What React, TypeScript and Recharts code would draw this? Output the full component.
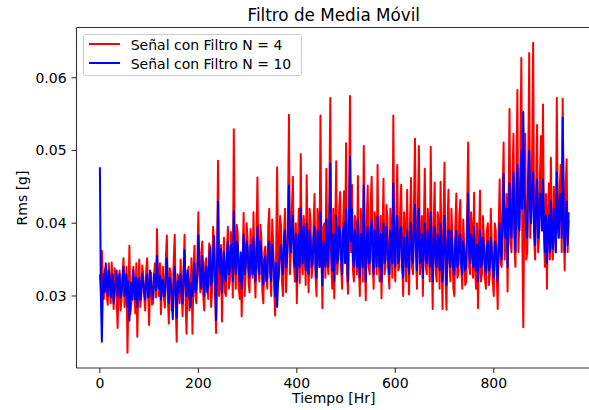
import { LineChart, Line, XAxis, YAxis, ReferenceLine } from 'recharts'

// Rms values in units of 1e-4 g, one sample every 2 hours (0 .. 952 Hr)
const stepHr = 2

const rmsN4 = [
  330, 305, 362, 318, 296, 335, 340, 300, 288, 345, 322, 290, 346, 310, 282, 338, 318, 295, 256, 320,
  335, 280, 296, 330, 352, 285, 300, 340, 222, 300, 369, 275, 290, 325, 340, 300, 276, 345, 244, 310,
  350, 285, 298, 342, 330, 300, 280, 335, 352, 305, 260, 315, 332, 288, 290, 330, 345, 298, 392, 320,
  300, 345, 275, 318, 340, 298, 284, 350, 383, 300, 262, 338, 330, 280, 295, 350, 384, 290, 237, 330,
  320, 290, 350, 305, 272, 335, 384, 295, 248, 322, 340, 280, 300, 352, 248, 330, 369, 300, 290, 345,
  415, 330, 305, 360, 375, 300, 280, 345, 352, 315, 296, 372, 368, 285, 310, 395, 370, 300, 249, 352,
  486, 300, 320, 370, 265, 340, 380, 305, 300, 362, 395, 310, 322, 388, 360, 298, 529, 345, 310, 398,
  385, 312, 296, 355, 272, 348, 414, 300, 330, 400, 378, 318, 305, 392, 360, 325, 415, 340, 298, 375,
  463, 335, 320, 398, 380, 305, 290, 360, 368, 325, 310, 395, 420, 330, 300, 405, 372, 312, 273, 360,
  477, 320, 330, 410, 395, 318, 300, 385, 420, 305, 340, 410, 549, 330, 360, 420, 464, 345, 320, 400,
  290, 365, 420, 318, 495, 350, 330, 410, 380, 315, 466, 360, 305, 420, 400, 325, 340, 395, 440, 330,
  300, 420, 390, 340, 548, 360, 283, 395, 400, 325, 475, 350, 330, 430, 572, 340, 310, 420, 297, 390,
  485, 330, 350, 420, 443, 340, 310, 400, 444, 350, 510, 330, 303, 420, 575, 360, 453, 335, 320, 410,
  390, 330, 465, 345, 300, 420, 380, 320, 506, 350, 294, 400, 452, 340, 330, 425, 464, 350, 310, 415,
  400, 330, 480, 360, 320, 410, 297, 380, 461, 330, 340, 425, 407, 335, 310, 420, 380, 325, 548, 355,
  320, 410, 480, 335, 340, 420, 453, 345, 300, 415, 390, 320, 446, 360, 302, 405, 462, 340, 330, 430,
  516, 360, 310, 425, 506, 330, 350, 410, 300, 395, 475, 340, 330, 420, 380, 320, 505, 360, 282, 400,
  456, 335, 320, 415, 400, 310, 457, 350, 282, 410, 483, 330, 281, 395, 446, 340, 320, 420, 380, 310,
  300, 395, 441, 325, 330, 410, 432, 340, 310, 405, 370, 315, 320, 420, 511, 340, 330, 415, 390, 325,
  442, 340, 310, 400, 283, 370, 445, 320, 330, 410, 380, 325, 310, 390, 400, 315, 330, 420, 370, 320,
  300, 400, 390, 330, 282, 395, 460, 345, 340, 430, 511, 350, 380, 440, 306, 420, 557, 375, 360, 460,
  523, 370, 340, 470, 583, 360, 400, 480, 627, 380, 257, 420, 523, 350, 360, 470, 634, 380, 420, 500,
  648, 380, 350, 450, 535, 360, 380, 470, 520, 390, 563, 380, 340, 440, 310, 410, 455, 350, 490, 370,
  350, 450, 400, 360, 572, 400, 380, 450, 480, 360, 571, 420, 335, 450, 488, 360, 405,
]

const rmsN10 = [
  477, 300, 237, 310, 330, 305, 345, 320, 300, 335, 325, 298, 312, 330, 290, 310, 318, 335, 300, 322,
  330, 298, 305, 325, 340, 300, 310, 330, 285, 320, 266, 300, 318, 295, 335, 310, 295, 325, 285, 315,
  325, 295, 305, 330, 320, 305, 295, 322, 330, 298, 300, 335, 318, 300, 296, 330, 320, 308, 355, 315,
  310, 328, 295, 315, 322, 300, 300, 330, 352, 310, 290, 325, 315, 300, 268, 315, 340, 300, 270, 320,
  305, 325, 330, 300, 290, 330, 363, 315, 300, 335, 320, 300, 285, 318, 300, 330, 345, 305, 310, 330,
  383, 345, 330, 310, 355, 335, 300, 325, 340, 305, 315, 350, 367, 315, 320, 355, 382, 325, 267, 340,
  430, 345, 330, 365, 305, 340, 360, 325, 320, 355, 375, 330, 340, 370, 355, 320, 416, 350, 330, 375,
  370, 335, 320, 360, 310, 350, 385, 330, 340, 375, 365, 335, 325, 370, 350, 330, 380, 340, 320, 360,
  395, 340, 330, 375, 360, 330, 315, 350, 355, 320, 325, 365, 375, 335, 320, 370, 350, 330, 300, 345,
  285, 320, 340, 365, 370, 340, 330, 380, 390, 340, 350, 385, 452, 370, 360, 395, 410, 350, 340, 385,
  320, 360, 385, 340, 420, 370, 345, 395, 365, 335, 400, 355, 330, 390, 375, 340, 345, 380, 395, 340,
  325, 390, 365, 340, 415, 350, 315, 375, 360, 340, 405, 355, 340, 395, 482, 360, 335, 385, 320, 370,
  410, 345, 350, 395, 385, 350, 330, 390, 400, 345, 420, 360, 320, 400, 491, 375, 420, 350, 340, 390,
  370, 340, 405, 350, 325, 385, 360, 340, 452, 370, 320, 375, 395, 345, 345, 390, 405, 350, 330, 390,
  370, 340, 410, 360, 340, 385, 320, 370, 400, 345, 350, 395, 375, 340, 330, 390, 365, 345, 455, 370,
  340, 385, 410, 345, 350, 390, 395, 340, 325, 380, 365, 340, 390, 355, 330, 380, 400, 350, 345, 395,
  425, 360, 335, 390, 420, 345, 350, 385, 325, 375, 400, 350, 345, 390, 370, 340, 415, 355, 320, 380,
  395, 345, 340, 385, 370, 335, 400, 350, 320, 380, 410, 345, 315, 375, 390, 345, 340, 390, 365, 335,
  330, 375, 390, 340, 345, 380, 385, 340, 330, 375, 360, 335, 340, 390, 441, 360, 345, 385, 370, 340,
  395, 345, 335, 370, 320, 360, 390, 340, 345, 380, 365, 340, 330, 370, 375, 335, 340, 380, 360, 340,
  325, 375, 370, 340, 320, 370, 400, 360, 350, 410, 468, 390, 380, 420, 340, 395, 455, 400, 380, 430,
  470, 390, 360, 440, 480, 400, 390, 450, 500, 420, 553, 440, 420, 390, 380, 460, 500, 420, 400, 450,
  470, 390, 370, 430, 460, 380, 390, 440, 440, 390, 460, 400, 360, 410, 345, 390, 410, 360, 430, 380,
  365, 420, 390, 360, 470, 400, 380, 430, 440, 380, 545, 420, 360, 400, 430, 370, 415,
]

const xTicks = [0, 200, 400, 600, 800]
const yTicks = [0.03, 0.04, 0.05, 0.06]

const seriesNames = ['Señal con Filtro N = 4', 'Señal con Filtro N = 10']
const seriesColors = ['#ff0000', '#0000ff']

const data = rmsN4.map((v, i) => ({
  h: i * stepHr,
  n4: v / 10000,
  n10: rmsN10[i] / 10000,
}))

const font = 'DejaVu Sans, Verdana, sans-serif'
const spine = '#333333'
const yMax = 0.0669

const XLabel = () => (
  <text x={333.75} y={403} textAnchor="middle" fontSize={14} fontFamily={font} fill="#000">
    Tiempo [Hr]
  </text>
)

const YLabel = () => (
  <text
    x={27}
    y={198}
    transform="rotate(-90 27 198)"
    textAnchor="middle"
    fontSize={14}
    fontFamily={font}
    fill="#000"
  >
    Rms [g]
  </text>
)

// legend drawn as an overlay so the chart keeps its full plot area
const LegendBox = () => (
  <div
    style={{
      position: 'absolute',
      left: 83,
      top: 34,
      width: 219,
      height: 42,
      boxSizing: 'border-box',
      border: '1px solid #cccccc',
      borderRadius: 3,
      background: 'rgba(255,255,255,0.8)',
      fontFamily: font,
      fontSize: 14,
      color: '#000',
    }}
  >
    {seriesNames.map((name, i) => (
      <div key={name}>
        <div
          style={{
            position: 'absolute',
            left: 5,
            top: (i === 0 ? 9 : 27.7) - 1,
            width: 31,
            height: 2,
            background: seriesColors[i],
          }}
        />
        <div
          style={{
            position: 'absolute',
            left: 46.7,
            top: i === 0 ? 2.3 : 21,
            height: 16,
            lineHeight: '16px',
            whiteSpace: 'nowrap',
          }}
        >
          {name}
        </div>
      </div>
    ))}
  </div>
)

export default function App() {
  return (
    <div style={{ position: 'absolute', left: 0, top: 0, width: 589, height: 410, overflow: 'hidden', background: '#fff' }}>
      <LineChart width={600} height={410} data={data} margin={{ top: 27.5, right: 9, bottom: 0, left: 0 }}>
        <XAxis
          type="number"
          dataKey="h"
          domain={[-47.5, 997.5]}
          allowDataOverflow
          ticks={xTicks}
          height={42}
          tickSize={4.9}
          tickMargin={5.4}
          tick={{ fill: '#000', fontSize: 14, fontFamily: font }}
          tickLine={{ stroke: spine, strokeWidth: 1.1 }}
          axisLine={{ stroke: spine, strokeWidth: 1.1 }}
          label={XLabel}
        />
        <YAxis
          type="number"
          domain={[0.0201, yMax]}
          allowDataOverflow
          ticks={yTicks}
          width={76.5}
          tickSize={4.9}
          tickMargin={5}
          tickFormatter={(v: number) => v.toFixed(2)}
          tick={{ fill: '#000', fontSize: 14, fontFamily: font }}
          tickLine={{ stroke: spine, strokeWidth: 1.1 }}
          axisLine={{ stroke: spine, strokeWidth: 1.1 }}
          label={YLabel}
        />
        <ReferenceLine y={yMax} stroke={spine} strokeWidth={1.1} />
        <Line
          type="linear"
          dataKey="n4"
          name={seriesNames[0]}
          stroke={seriesColors[0]}
          strokeWidth={2}
          strokeLinejoin="round"
          dot={false}
          activeDot={false}
          isAnimationActive={false}
        />
        <Line
          type="linear"
          dataKey="n10"
          name={seriesNames[1]}
          stroke={seriesColors[1]}
          strokeWidth={2}
          strokeLinejoin="round"
          dot={false}
          activeDot={false}
          isAnimationActive={false}
        />
      </LineChart>
      <svg width={589} height={27} style={{ position: 'absolute', left: 0, top: 0 }}>
        <text x={333.75} y={20.5} textAnchor="middle" fontSize={16.8} fontFamily={font} fill="#000">
          Filtro de Media Móvil
        </text>
      </svg>
      <LegendBox />
    </div>
  )
}
